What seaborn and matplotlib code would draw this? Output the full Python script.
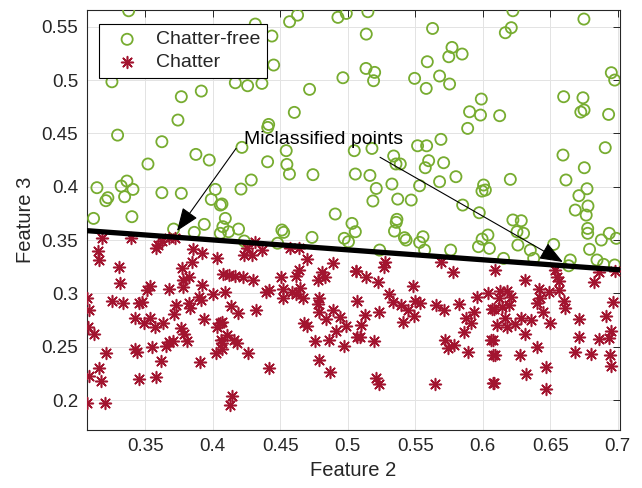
import numpy as np
import pandas as pd
import matplotlib
matplotlib.use("Agg")
import matplotlib.pyplot as plt
import seaborn as sns

# ========== DATA ==========
# chatter-free samples (open circles)
free_x = [0.3377, 0.3253, 0.3767, 0.3915, 0.3742, 0.3295, 0.3623, 0.3875, 0.3974, 0.3520,
          0.3142, 0.3322, 0.3364, 0.3409, 0.3347, 0.3223, 0.3208, 0.3623, 0.3767, 0.4019,
          0.3989, 0.4056, 0.3117, 0.3401, 0.3710, 0.3863, 0.3937, 0.4056,
          0.4315, 0.4569, 0.4628, 0.4927, 0.4989, 0.4438, 0.4451, 0.4167, 0.4258, 0.4364,
          0.4964, 0.4717, 0.4604, 0.4414, 0.4407, 0.4216, 0.4544, 0.4406, 0.4549, 0.4568,
          0.4742, 0.5048, 0.5056, 0.4285, 0.4209, 0.4068, 0.4093, 0.4907,
          0.4117, 0.4191, 0.4075, 0.4233, 0.4512, 0.4525, 0.4480, 0.4735, 0.5031, 0.5056,
          0.4974, 0.5005,
          0.5149, 0.5137, 0.5628, 0.5772, 0.5748, 0.5847, 0.5589, 0.5135, 0.5199, 0.5191,
          0.5495, 0.5581, 0.5680, 0.5754, 0.5989, 0.5902, 0.5983, 0.5888, 0.5690, 0.5517,
          0.5584, 0.5179, 0.5340, 0.5357, 0.5389, 0.5599, 0.5574, 0.5710, 0.5164, 0.5211,
          0.5327, 0.5532, 0.5680, 0.5801, 0.6006, 0.6019, 0.5994, 0.5186, 0.5370, 0.5470,
          0.5851, 0.5974, 0.5364,
          0.5359, 0.5346, 0.5420, 0.5432, 0.5236, 0.5532, 0.5557, 0.5569, 0.5762, 0.5968,
          0.5995, 0.6038, 0.6049,
          0.6223, 0.6211, 0.6167, 0.6749, 0.6952, 0.6977, 0.6599, 0.6742, 0.6750, 0.6726,
          0.6932, 0.6125, 0.6594, 0.6907, 0.6752, 0.6616, 0.6204, 0.6772, 0.6712, 0.6685,
          0.6779, 0.6766, 0.6223, 0.6285,
          0.6253, 0.6302, 0.6260, 0.6352, 0.6377, 0.6154, 0.6525, 0.6648, 0.6636, 0.6777,
          0.6777, 0.6878, 0.6937, 0.6989, 0.6791, 0.6846, 0.6895, 0.6977]
free_y = [0.5650, 0.4984, 0.4844, 0.4897, 0.4625, 0.4484, 0.4422, 0.4303, 0.4250, 0.4213,
          0.3991, 0.4006, 0.4053, 0.3975, 0.3906, 0.3897, 0.3869, 0.3944, 0.3938, 0.3975,
          0.3881, 0.3828, 0.3703, 0.3719, 0.3603, 0.3572, 0.3647, 0.3563,
          0.5525, 0.5547, 0.5609, 0.5588, 0.5625, 0.5413, 0.5141, 0.4975, 0.4947, 0.4969,
          0.5022, 0.4913, 0.4697, 0.4584, 0.4556, 0.4369, 0.4338, 0.4234, 0.4209, 0.4119,
          0.4113, 0.4338, 0.4119, 0.4063, 0.3978, 0.3838, 0.3703, 0.3744,
          0.3578, 0.3603, 0.3625, 0.3491, 0.3594, 0.3572, 0.3470, 0.3525, 0.3656, 0.3578,
          0.3516, 0.3484,
          0.5641, 0.5431, 0.5484, 0.5306, 0.5219, 0.5244, 0.5172, 0.5109, 0.5072, 0.4994,
          0.5016, 0.4922, 0.5038, 0.4963, 0.4822, 0.4703, 0.4672, 0.4547, 0.4444, 0.4384,
          0.4384, 0.4359, 0.4288, 0.4213, 0.4213, 0.4244, 0.4178, 0.4225, 0.4106, 0.3984,
          0.4025, 0.4009, 0.4047, 0.4094, 0.4016, 0.3969, 0.3959, 0.3866, 0.3884, 0.3875,
          0.3828, 0.3756, 0.3694,
          0.3666, 0.3584, 0.3522, 0.3500, 0.3406, 0.3478, 0.3531, 0.3406, 0.3406, 0.3438,
          0.3509, 0.3547, 0.3422,
          0.5650, 0.5491, 0.5444, 0.5572, 0.5069, 0.5000, 0.4844, 0.4834, 0.4719, 0.4700,
          0.4678, 0.4666, 0.4297, 0.4366, 0.4178, 0.4063, 0.4069, 0.3981, 0.3916, 0.3781,
          0.3819, 0.3734, 0.3688, 0.3681,
          0.3578, 0.3563, 0.3453, 0.3406, 0.3328, 0.3328, 0.3459, 0.3313, 0.3259, 0.3609,
          0.3563, 0.3500, 0.3563, 0.3516, 0.3413, 0.3313, 0.3272, 0.3266]

# chatter samples (asterisks)
chat_x = [0.3179, 0.3396, 0.3623, 0.3593, 0.3578, 0.3673, 0.3722, 0.3149, 0.3159, 0.3857,
          0.3923, 0.3844, 0.3302, 0.3771, 0.3825, 0.3776, 0.3778, 0.3314, 0.3535, 0.3510,
          0.3673, 0.3919, 0.3068, 0.3081, 0.3252, 0.3338, 0.3451, 0.3476, 0.3899, 0.3911,
          0.4005, 0.3825, 0.3830, 0.3730, 0.3713, 0.3426, 0.3537, 0.3488, 0.3574, 0.3630,
          0.3932, 0.4056, 0.4032, 0.3075, 0.3122, 0.3766, 0.3788, 0.3808, 0.3673, 0.3702,
          0.3657, 0.4063, 0.4067, 0.3426, 0.3437, 0.3549, 0.3210, 0.3613, 0.3906, 0.4025,
          0.3154, 0.3080, 0.3173, 0.3456, 0.3581, 0.3068, 0.3199,
          0.4315, 0.4253, 0.4290, 0.4228, 0.4364, 0.4574, 0.4636, 0.4035, 0.4701, 0.4889,
          0.4079, 0.4123, 0.4165, 0.4222, 0.4296, 0.4504, 0.4618, 0.4640, 0.4783, 0.4807,
          0.4832, 0.5063, 0.4089, 0.4393, 0.4417, 0.4518, 0.4518, 0.4586, 0.4617, 0.4646,
          0.4667, 0.4136, 0.4185, 0.4321, 0.4790, 0.4778, 0.4785, 0.4894, 0.4946, 0.4840,
          0.5068, 0.4068, 0.4105, 0.4068, 0.4159, 0.4178, 0.4673, 0.4701, 0.4911, 0.4985,
          0.5070, 0.4759, 0.4858, 0.4974, 0.4260, 0.4784, 0.4414, 0.4870, 0.4142, 0.4125,
          0.5278, 0.5269, 0.5063, 0.5137, 0.5223, 0.5483, 0.5688, 0.5779, 0.5302, 0.5333,
          0.5391, 0.5446, 0.5489, 0.5499, 0.5538, 0.5126, 0.5232, 0.5101, 0.5089, 0.5194,
          0.5409, 0.5656, 0.5714, 0.5823, 0.5959, 0.6038, 0.5935, 0.5877, 0.5910, 0.5861,
          0.6068, 0.6063, 0.6075, 0.5722, 0.5741, 0.5785, 0.5890, 0.5211, 0.5228, 0.5643,
          0.6075,
          0.6093, 0.6315, 0.6130, 0.6180, 0.6212, 0.6117, 0.6191, 0.6080, 0.6142, 0.6162,
          0.6105, 0.6179, 0.6236, 0.6285, 0.6359, 0.6414, 0.6426, 0.6401, 0.6443, 0.6493,
          0.6562, 0.6537, 0.6549, 0.6567, 0.6599, 0.6606, 0.6500, 0.6310, 0.6073, 0.6401,
          0.6093, 0.6278, 0.6470, 0.6320, 0.6085, 0.6468, 0.6715, 0.6715, 0.6685, 0.6804,
          0.6821, 0.6858, 0.6977, 0.6964, 0.6912, 0.6858, 0.6937, 0.6951, 0.6944, 0.6951]
chat_y = [0.3522, 0.3516, 0.3491, 0.3453, 0.3422, 0.3516, 0.3522, 0.3397, 0.3313, 0.3413,
          0.3375, 0.3297, 0.3250, 0.3234, 0.3156, 0.3125, 0.3063, 0.3094, 0.3072, 0.3031,
          0.3041, 0.3078, 0.2953, 0.2844, 0.2931, 0.2906, 0.2906, 0.2916, 0.2969, 0.2938,
          0.2994, 0.2906, 0.2859, 0.2891, 0.2806, 0.2766, 0.2772, 0.2719, 0.2688, 0.2725,
          0.2756, 0.2719, 0.2688, 0.2688, 0.2616, 0.2672, 0.2616, 0.2553, 0.2547, 0.2553,
          0.2509, 0.2563, 0.2478, 0.2478, 0.2447, 0.2500, 0.2438, 0.2366, 0.2353, 0.2438,
          0.2297, 0.2228, 0.2178, 0.2194, 0.2213, 0.1969, 0.1969,
          0.3484, 0.3422, 0.3359, 0.3359, 0.3406, 0.3428, 0.3422, 0.3334, 0.3325, 0.3288,
          0.3178, 0.3172, 0.3166, 0.3156, 0.3125, 0.3156, 0.3166, 0.3219, 0.3125, 0.3203,
          0.3156, 0.3209, 0.3009, 0.3009, 0.3031, 0.3041, 0.2959, 0.3009, 0.2994, 0.3053,
          0.2953, 0.2884, 0.2813, 0.2844, 0.2959, 0.2897, 0.2828, 0.2844, 0.2781, 0.2759,
          0.2928, 0.2734, 0.2609, 0.2531, 0.2563, 0.2531, 0.2719, 0.2694, 0.2647, 0.2697,
          0.2594, 0.2553, 0.2563, 0.2506, 0.2444, 0.2375, 0.2303, 0.2259, 0.2041, 0.1953,
          0.3297, 0.3250, 0.3209, 0.3156, 0.3103, 0.3072, 0.3291, 0.3203, 0.2994, 0.2916,
          0.2891, 0.2844, 0.2791, 0.2928, 0.2906, 0.2797, 0.2822, 0.2703, 0.2594, 0.2553,
          0.2728, 0.2891, 0.2844, 0.2897, 0.2969, 0.3006, 0.2828, 0.2766, 0.2719, 0.2641,
          0.2853, 0.2563, 0.2422, 0.2563, 0.2491, 0.2516, 0.2447, 0.2209, 0.2147, 0.2147,
          0.2156,
          0.3219, 0.3125, 0.3022, 0.3022, 0.2969, 0.2953, 0.2891, 0.2850, 0.2875, 0.2772,
          0.2703, 0.2688, 0.2709, 0.2772, 0.2750, 0.3041, 0.2959, 0.2906, 0.2828, 0.3009,
          0.3031, 0.3219, 0.3156, 0.3116, 0.2925, 0.2863, 0.2719, 0.2616, 0.2563, 0.2500,
          0.2422, 0.2422, 0.2313, 0.2241, 0.2156, 0.2103, 0.2759, 0.2594, 0.2453, 0.2428,
          0.3109, 0.3203, 0.3209, 0.2916, 0.2788, 0.2572, 0.2584, 0.2647, 0.2422, 0.2322]

# separating line (end points at the axis limits)
boundary_x = [0.3066, 0.7020]
boundary_y = [0.3588, 0.3220]

# annotation: label and the two misclassified points it points to
note_text = "Miclassified points"
note_xy = (0.4233, 0.4398)
arrow_from = [(0.4173, 0.4360), (0.5239, 0.4276)]
arrow_to = [(0.3735, 0.3585), (0.6593, 0.3294)]

x_ticks = [0.35, 0.4, 0.45, 0.5, 0.55, 0.6, 0.65, 0.7]
y_ticks = [0.2, 0.25, 0.3, 0.35, 0.4, 0.45, 0.5, 0.55]

GREEN = "#77AC30"
RED = "#A2142F"
AXC = "#262626"

# ========== PLOT ==========
sns.set_theme(style="white")
plt.rcParams["font.family"] = ["Liberation Sans", "DejaVu Sans"]

free = pd.DataFrame({"f2": free_x, "f3": free_y})
chat = pd.DataFrame({"f2": chat_x, "f3": chat_y})

fig = plt.figure(figsize=(6.42, 4.88), dpi=100)
ax = fig.add_axes([0.135, 0.1189, 0.8315, 0.8606])

sns.scatterplot(data=free, x="f2", y="f3", ax=ax, marker="o", s=64,
                facecolor="none", edgecolor=GREEN, linewidth=1.3,
                label="Chatter-free", zorder=3)
sns.scatterplot(data=chat, x="f2", y="f3", ax=ax, marker=(8, 2, 0), s=72,
                color=RED, linewidth=1.15, label="Chatter", zorder=3)
ax.plot(boundary_x, boundary_y, color="black", lw=3.8, zorder=4,
        solid_capstyle="butt")

ax.text(note_xy[0], note_xy[1], note_text, fontsize=14, color="black",
        ha="left", va="baseline", zorder=6)
for p0, p1 in zip(arrow_from, arrow_to):
    ax.annotate("", xy=p1, xytext=p0, zorder=6,
                arrowprops=dict(arrowstyle="-|>,head_length=0.9,head_width=0.35",
                                color="black", lw=0.8, mutation_scale=16,
                                shrinkA=0, shrinkB=0))

ax.set_xlim(0.3066, 0.7020)
ax.set_ylim(0.1719, 0.5657)
ax.set_xticks(x_ticks)
ax.set_yticks(y_ticks)
ax.set_xticklabels([f"{v:g}" for v in x_ticks])
ax.set_yticklabels([f"{v:g}" for v in y_ticks])
ax.grid(True, color="#e3e3e3", lw=0.7, zorder=0)
ax.set_axisbelow(True)
ax.tick_params(direction="in", length=5, width=0.7, colors=AXC,
               labelsize=13.5, top=True, right=True, pad=6)
for sp in ax.spines.values():
    sp.set_color(AXC)
    sp.set_linewidth(0.8)
ax.set_xlabel("Feature 2", fontsize=14.5, color=AXC, labelpad=4)
ax.set_ylabel("Feature 3", fontsize=14.5, color=AXC, labelpad=5)

leg = ax.legend(loc="upper left", bbox_to_anchor=(0.023, 0.9667),
                borderaxespad=0, fontsize=14, frameon=True, fancybox=False,
                framealpha=1, edgecolor="black", handlelength=2.2,
                handletextpad=0.4, borderpad=0.35, labelspacing=0.25)
leg.get_frame().set_linewidth(0.8)
leg.set_zorder(10)

plt.savefig("out.png", dpi=100)
